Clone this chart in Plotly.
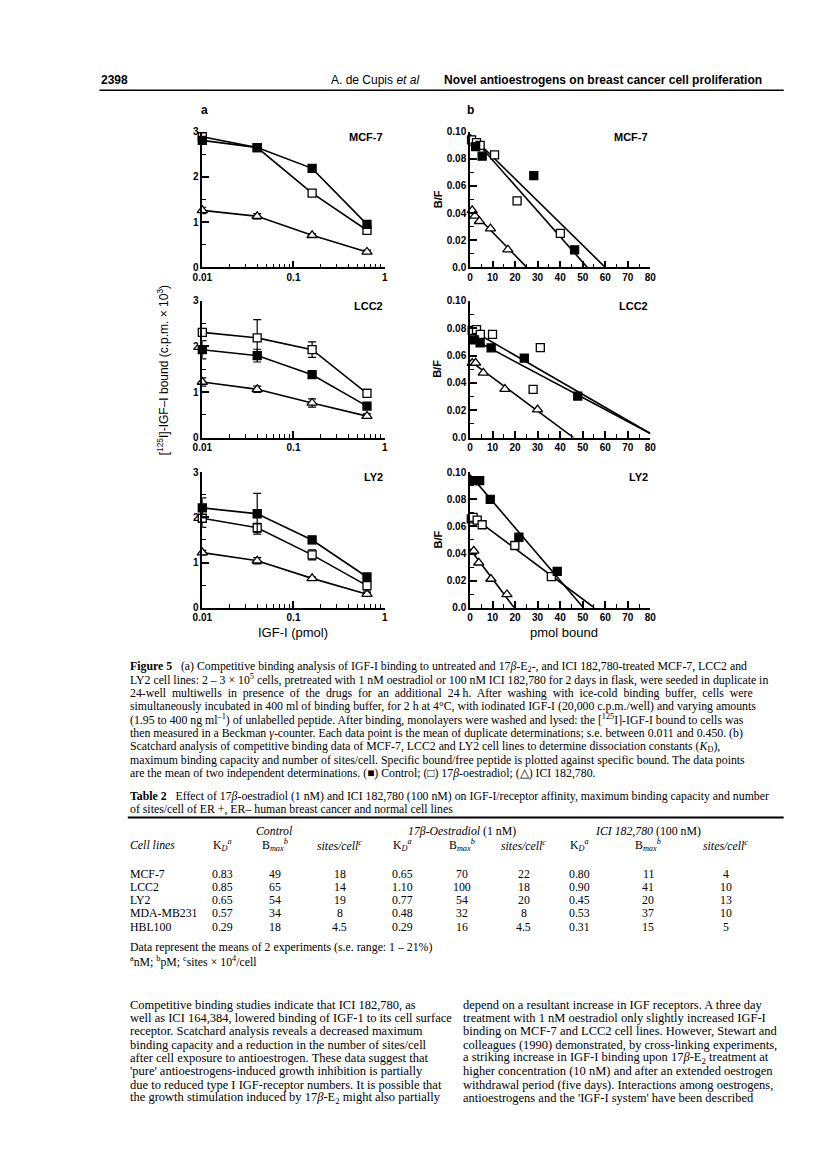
import plotly.graph_objects as go

W, H = 816, 1151


def px(x):
    return x / W


def py(y):
    return 1 - y / H


# ---------------- data ----------------
igf_dose = [0.01, 0.04, 0.16, 0.64]
cell_lines = ["MCF-7", "LCC2", "LY2"]

# (a) competitive binding, c.p.m. x 10^3
bound_control = {
    "MCF-7": [2.81, 2.65, 2.19, 0.95],
    "LCC2": [1.93, 1.80, 1.38, 0.69],
    "LY2": [2.21, 2.08, 1.50, 0.68],
}
bound_e2 = {
    "MCF-7": [2.89, 2.65, 1.64, 0.82],
    "LCC2": [2.31, 2.19, 1.93, 0.97],
    "LY2": [1.98, 1.77, 1.17, 0.49],
}
bound_ici = {
    "MCF-7": [1.26, 1.13, 0.71, 0.34],
    "LCC2": [1.22, 1.06, 0.76, 0.47],
    "LY2": [1.22, 1.04, 0.65, 0.30],
}
err_control = {
    "MCF-7": [0.04, 0.03, 0.04, 0.05],
    "LCC2": [0.20, 0.14, 0.04, 0.04],
    "LY2": [0.22, 0.45, 0.08, 0.04],
}
err_e2 = {
    "MCF-7": [0.08, 0.03, 0.04, 0.06],
    "LCC2": [0.06, 0.40, 0.17, 0.09],
    "LY2": [0.20, 0.10, 0.11, 0.12],
}
err_ici = {
    "MCF-7": [0.07, 0.06, 0.03, 0.04],
    "LCC2": [0.09, 0.07, 0.09, 0.05],
    "LY2": [0.05, 0.07, 0.03, 0.04],
}

# (b) Scatchard: bound (pmol) and B/F
sc_control_x = {
    "MCF-7": [2.5, 5.4, 28.3, 46.4],
    "LCC2": [2.0, 4.5, 9.4, 24.1, 47.8],
    "LY2": [2.0, 4.3, 9.0, 21.7, 38.7],
}
sc_control_y = {
    "MCF-7": [0.089, 0.082, 0.0676, 0.0129],
    "LCC2": [0.0715, 0.0693, 0.0657, 0.0581, 0.0304],
    "LY2": [0.0938, 0.0938, 0.080, 0.052, 0.0268],
}
sc_e2_x = {
    "MCF-7": [0.7, 2.9, 4.5, 10.9, 20.9, 40.1],
    "LCC2": [1.0, 2.9, 4.6, 10.0, 28.0, 31.2],
    "LY2": [0.6, 1.4, 3.2, 5.4, 19.9, 36.1],
}
sc_e2_y = {
    "MCF-7": [0.094, 0.092, 0.090, 0.083, 0.049, 0.025],
    "LCC2": [0.0785, 0.079, 0.0756, 0.0756, 0.0353, 0.0659],
    "LY2": [0.0655, 0.0666, 0.0646, 0.0612, 0.0459, 0.0229],
}
sc_ici_x = {
    "MCF-7": [1.0, 2.2, 4.2, 9.1, 16.8],
    "LCC2": [1.0, 2.5, 5.9, 15.5, 30.0],
    "LY2": [1.7, 3.9, 9.3, 16.4],
}
sc_ici_y = {
    "MCF-7": [0.042, 0.038, 0.034, 0.0285, 0.013],
    "LCC2": [0.0545, 0.0547, 0.0474, 0.0355, 0.0204],
    "LY2": [0.042, 0.0332, 0.0212, 0.0098],
}
# fitted Scatchard lines: B/F intercept and bound intercept
fit_control = {"MCF-7": (0.098, 52.0), "LCC2": (0.0732, 83.4), "LY2": (0.098, 50.3)}
fit_e2 = {"MCF-7": (0.098, 60.0), "LCC2": (0.0793, 83.1), "LY2": (0.0685, 55.1)}
fit_ici = {"MCF-7": (0.043, 25.2), "LCC2": (0.0562, 45.9), "LY2": (0.0434, 19.6)}

# table 2
table_rows = ["MCF-7", "LCC2", "LY2", "MDA-MB231", "HBL100"]
ctrl_kd = ["0.83", "0.85", "0.65", "0.57", "0.29"]
ctrl_bmax = ["49", "65", "54", "34", "18"]
ctrl_sites = ["18", "14", "19", "8", "4.5"]
e2_kd = ["0.65", "1.10", "0.77", "0.48", "0.29"]
e2_bmax = ["70", "100", "54", "32", "16"]
e2_sites = ["22", "18", "20", "8", "4.5"]
ici_kd = ["0.80", "0.90", "0.45", "0.53", "0.31"]
ici_bmax = ["11", "41", "20", "37", "15"]
ici_sites = ["4", "10", "13", "10", "5"]

# ---------------- layout geometry ----------------
left_x = (188, 374)
right_x = (461, 645)
rows_y = [(119, 256), (290, 428), (463, 600)]
MARGIN = 112

SANS = "Liberation Sans, Arial, sans-serif"
SERIF = "Liberation Serif, Times New Roman, serif"

fig = go.Figure()

axis_common = dict(
    showline=True, linecolor="black", linewidth=1.5, ticks="inside",
    tickcolor="black", tickwidth=1.5, ticklen=7, showgrid=False,
    zeroline=False, mirror=False, fixedrange=True,
    tickfont=dict(family=SANS, size=10, color="black", weight="bold"),
)

layout_axes = {}
for i, cl in enumerate(cell_lines):
    top, bot = rows_y[i]
    dom_y = [py(bot), py(top)]
    xa = f"xaxis{2 * i + 1}" if i > 0 else "xaxis"
    ya = f"yaxis{2 * i + 1}" if i > 0 else "yaxis"
    xr = f"x{2 * i + 1}" if i > 0 else "x"
    yr = f"y{2 * i + 1}" if i > 0 else "y"
    layout_axes[xa] = dict(
        axis_common, type="log", range=[-2, 0], domain=[px(left_x[0]), px(left_x[1])],
        anchor=yr, tickvals=[0.01, 0.1, 1], ticktext=["0.01", "0.1", "1"],
        minor=dict(ticks="inside", ticklen=4, tickwidth=1.2, tickcolor="black",
                   tickvals=[0.02, 0.03, 0.04, 0.05, 0.06, 0.07, 0.08, 0.09,
                             0.2, 0.3, 0.4, 0.5, 0.6, 0.7, 0.8, 0.9]),
    )
    layout_axes[ya] = dict(
        axis_common, range=[0, 3], domain=dom_y, anchor=xr,
        tickvals=[0, 1, 2, 3], ticktext=["0", "1", "2", "3"],
        minor=dict(ticks="inside", ticklen=4, tickwidth=1.2, tickcolor="black",
                   tickvals=[0.5, 1.5, 2.5]),
    )
    xb = f"xaxis{2 * i + 2}"
    yb = f"yaxis{2 * i + 2}"
    layout_axes[xb] = dict(
        axis_common, range=[0, 80], domain=[px(right_x[0]), px(right_x[1])],
        anchor=f"y{2 * i + 2}", tickvals=list(range(0, 81, 10)),
        minor=dict(ticks="inside", ticklen=4, tickwidth=1.2, tickcolor="black",
                   tickvals=list(range(5, 80, 10))),
    )
    layout_axes[yb] = dict(
        axis_common, range=[0, 0.1], domain=dom_y, anchor=f"x{2 * i + 2}",
        tickvals=[0, 0.02, 0.04, 0.06, 0.08, 0.10],
        ticktext=["0.0", "0.02", "0.04", "0.06", "0.08", "0.10"],
        minor=dict(ticks="inside", ticklen=4, tickwidth=1.2, tickcolor="black",
                   tickvals=[0.01, 0.03, 0.05, 0.07, 0.09]),
    )

    series = [
        (bound_ici[cl], err_ici[cl], "triangle-up", "white", 9),
        (bound_e2[cl], err_e2[cl], "square", "white", 8),
        (bound_control[cl], err_control[cl], "square", "black", 8),
    ]
    for vals, errs, sym, fill, size in series:
        fig.add_trace(go.Scatter(
            x=igf_dose, y=vals, xaxis=xr, yaxis=yr, mode="lines+markers",
            line=dict(color="black", width=1.6), cliponaxis=False,
            marker=dict(symbol=sym, size=size, color=fill,
                        line=dict(color="black", width=1.3)),
            error_y=dict(type="data", array=errs, visible=True, color="black",
                         thickness=1.2, width=4),
            showlegend=False, hoverinfo="skip",
        ))

    xr2 = f"x{2 * i + 2}"
    yr2 = f"y{2 * i + 2}"
    for b0, xint in (fit_ici[cl], fit_e2[cl], fit_control[cl]):
        x_end = min(xint, 80)
        fig.add_trace(go.Scatter(
            x=[0, x_end], y=[b0, b0 * (1 - x_end / xint)], xaxis=xr2, yaxis=yr2,
            mode="lines", line=dict(color="black", width=1.6),
            showlegend=False, hoverinfo="skip", cliponaxis=False,
        ))
    for xs, ys, sym, fill, size in (
        (sc_ici_x[cl], sc_ici_y[cl], "triangle-up", "white", 9),
        (sc_e2_x[cl], sc_e2_y[cl], "square", "white", 8),
        (sc_control_x[cl], sc_control_y[cl], "square", "black", 8),
    ):
        fig.add_trace(go.Scatter(
            x=xs, y=ys, xaxis=xr2, yaxis=yr2, mode="markers", cliponaxis=False,
            marker=dict(symbol=sym, size=size, color=fill,
                        line=dict(color="black", width=1.3)),
            showlegend=False, hoverinfo="skip",
        ))

annotations = []


def add_text(x, y, text, size=11, family=SANS, xanchor="left", yanchor="middle", angle=0):
    annotations.append(dict(
        x=px(x), y=py(y), xref="paper", yref="paper", text=text, showarrow=False,
        xanchor=xanchor, yanchor=yanchor, textangle=angle,
        font=dict(family=family, size=size, color="black"),
    ))


add_text(190, 97, "<b>a</b>", size=12, xanchor="center")
add_text(462, 97, "<b>b</b>", size=12, xanchor="center")
for i, cl in enumerate(cell_lines):
    top, bot = rows_y[i]
    add_text(left_x[1], top + 5, f"<b>{cl}</b>", size=11, xanchor="right")
    add_text(right_x[1], top + 5, f"<b>{cl}</b>", size=11, xanchor="right")
    add_text(428, (top + bot) / 2, "<b>B/F</b>", size=11, xanchor="center", angle=-90)

add_text(148, 360, "[<sup>125</sup>I]-IGF–I bound (c.p.m. × 10<sup>3</sup>)", size=12,
         xanchor="center", angle=-90)
add_text(281, 625, "IGF-I (pmol)", size=13, xanchor="center")
add_text(557, 625, "pmol bound", size=13, xanchor="center")

HEAD = "Liberation Sans Narrow, Liberation Sans, Arial Narrow, sans-serif"
add_text(83, 67, "<b>2398</b>", size=12, family=HEAD)
add_text(411, 67, "A. de Cupis <i>et al</i>", size=12, family=HEAD, xanchor="right")
add_text(432, 67, "<b>Novel antioestrogens on breast cancer cell proliferation</b>", size=12, family=HEAD)

caption = [
    "<b>Figure 5</b>   (a) Competitive binding analysis of IGF-I binding to untreated and 17<i>β</i>-E<sub>2</sub>-, and ICI 182,780-treated MCF-7, LCC2 and",
    "LY2 cell lines: 2 – 3 × 10<sup>5</sup> cells, pretreated with 1 nM oestradiol or 100 nM ICI 182,780 for 2 days in flask, were seeded in duplicate in",
    "24-well  multiwells  in  presence  of  the  drugs  for  an  additional  24 h.  After  washing  with  ice-cold  binding  buffer,  cells  were",
    "simultaneously incubated in 400 ml of binding buffer, for 2 h at 4°C, with iodinated IGF-I (20,000 c.p.m./well) and varying amounts",
    "(1.95 to 400 ng ml<sup>–1</sup>) of unlabelled peptide. After binding, monolayers were washed and lysed: the [<sup>125</sup>I]-IGF-I bound to cells was",
    "then measured in a Beckman <i>γ</i>-counter. Each data point is the mean of duplicate determinations; s.e. between 0.011 and 0.450. (b)",
    "Scatchard analysis of competitive binding data of MCF-7, LCC2 and LY2 cell lines to determine dissociation constants (<i>K</i><sub>D</sub>),",
    "maximum binding capacity and number of sites/cell. Specific bound/free peptide is plotted against specific bound. The data points",
    "are the mean of two independent determinations. (■) Control; (□) 17<i>β</i>-oestradiol; (△) ICI 182,780.",
]
for k, line in enumerate(caption):
    add_text(MARGIN, 659 + 13.5 * k, line, size=11.8, family=SERIF)

add_text(MARGIN, 790, "<b>Table 2</b>   Effect of 17<i>β</i>-oestradiol (1 nM) and ICI 182,780 (100 nM) on IGF-I/receptor affinity, maximum binding capacity and number",
         size=11.8, family=SERIF)
add_text(MARGIN, 803, "of sites/cell of ER +, ER– human breast cancer and normal cell lines", size=11.8, family=SERIF)

col_x = [112, 209, 262, 328, 392, 453, 516, 573, 643, 722]
add_text(col_x[2], 826, "<i>Control</i>", size=11.8, family=SERIF, xanchor="center")
add_text(col_x[5], 826, "<i>17β-Oestradiol</i> (1 nM)", size=11.8, family=SERIF, xanchor="center")
add_text(col_x[8], 826, "<i>ICI 182,780</i> (100 nM)", size=11.8, family=SERIF, xanchor="center")
add_text(col_x[0], 840, "<i>Cell lines</i>", size=11.8, family=SERIF)
hdr = ["K<sub><i>D</i></sub><sup><i>a</i></sup>", "B<sub><i>max</i></sub><sup><i>b</i></sup>",
       "<i>sites/cell<sup>c</sup></i>"]
for g in range(3):
    for j in range(3):
        add_text(col_x[1 + 3 * g + j], 840, hdr[j], size=11.8, family=SERIF, xanchor="center")

cols = [ctrl_kd, ctrl_bmax, ctrl_sites, e2_kd, e2_bmax, e2_sites, ici_kd, ici_bmax, ici_sites]
for r, name in enumerate(table_rows):
    yy = 869 + 13.3 * r
    add_text(col_x[0], yy, name, size=11.8, family=SERIF)
    for c, col in enumerate(cols):
        add_text(col_x[c + 1], yy, col[r], size=11.8, family=SERIF, xanchor="center")

add_text(MARGIN, 943, "Data represent the means of 2 experiments (s.e. range: 1 – 21%)", size=11.8, family=SERIF)
add_text(MARGIN, 957, "<sup>a</sup>nM; <sup>b</sup>pM; <sup>c</sup>sites × 10<sup>4</sup>/cell", size=11.8, family=SERIF)

body_left = [
    "Competitive binding studies indicate that ICI 182,780, as",
    "well as ICI 164,384, lowered binding of IGF-1 to its cell surface",
    "receptor. Scatchard analysis reveals a decreased maximum",
    "binding capacity and a reduction in the number of sites/cell",
    "after cell exposure to antioestrogen. These data suggest that",
    "'pure' antioestrogens-induced growth inhibition is partially",
    "due to reduced type I IGF-receptor numbers. It is possible that",
    "the growth stimulation induced by 17<i>β</i>-E<sub>2</sub> might also partially",
]
body_right = [
    "depend on a resultant increase in IGF receptors. A three day",
    "treatment with 1 nM oestradiol only slightly increased IGF-I",
    "binding on MCF-7 and LCC2 cell lines. However, Stewart and",
    "colleagues (1990) demonstrated, by cross-linking experiments,",
    "a striking increase in IGF-I binding upon 17<i>β</i>-E<sub>2</sub> treatment at",
    "higher concentration (10 nM) and after an extended oestrogen",
    "withdrawal period (five days). Interactions among oestrogens,",
    "antioestrogens and the 'IGF-I system' have been described",
]
for k, line in enumerate(body_left):
    add_text(MARGIN, 1001 + 13.5 * k, line, size=12.5, family=SERIF)
for k, line in enumerate(body_right):
    add_text(452, 1001 + 13.5 * k, line, size=12.5, family=SERIF)

shapes = [
    dict(type="line", xref="paper", yref="paper", x0=px(83), x1=px(781), y0=py(77), y1=py(77),
         line=dict(color="black", width=1.5)),
    dict(type="line", xref="paper", yref="paper", x0=px(MARGIN), x1=px(781), y0=py(812), y1=py(812),
         line=dict(color="black", width=2)),
]

fig.update_layout(
    width=W, height=H, autosize=False,
    margin=dict(l=0, r=0, t=0, b=0),
    paper_bgcolor="white", plot_bgcolor="white",
    showlegend=False, annotations=annotations, shapes=shapes,
    **layout_axes,
)

fig.write_html("out.html")
